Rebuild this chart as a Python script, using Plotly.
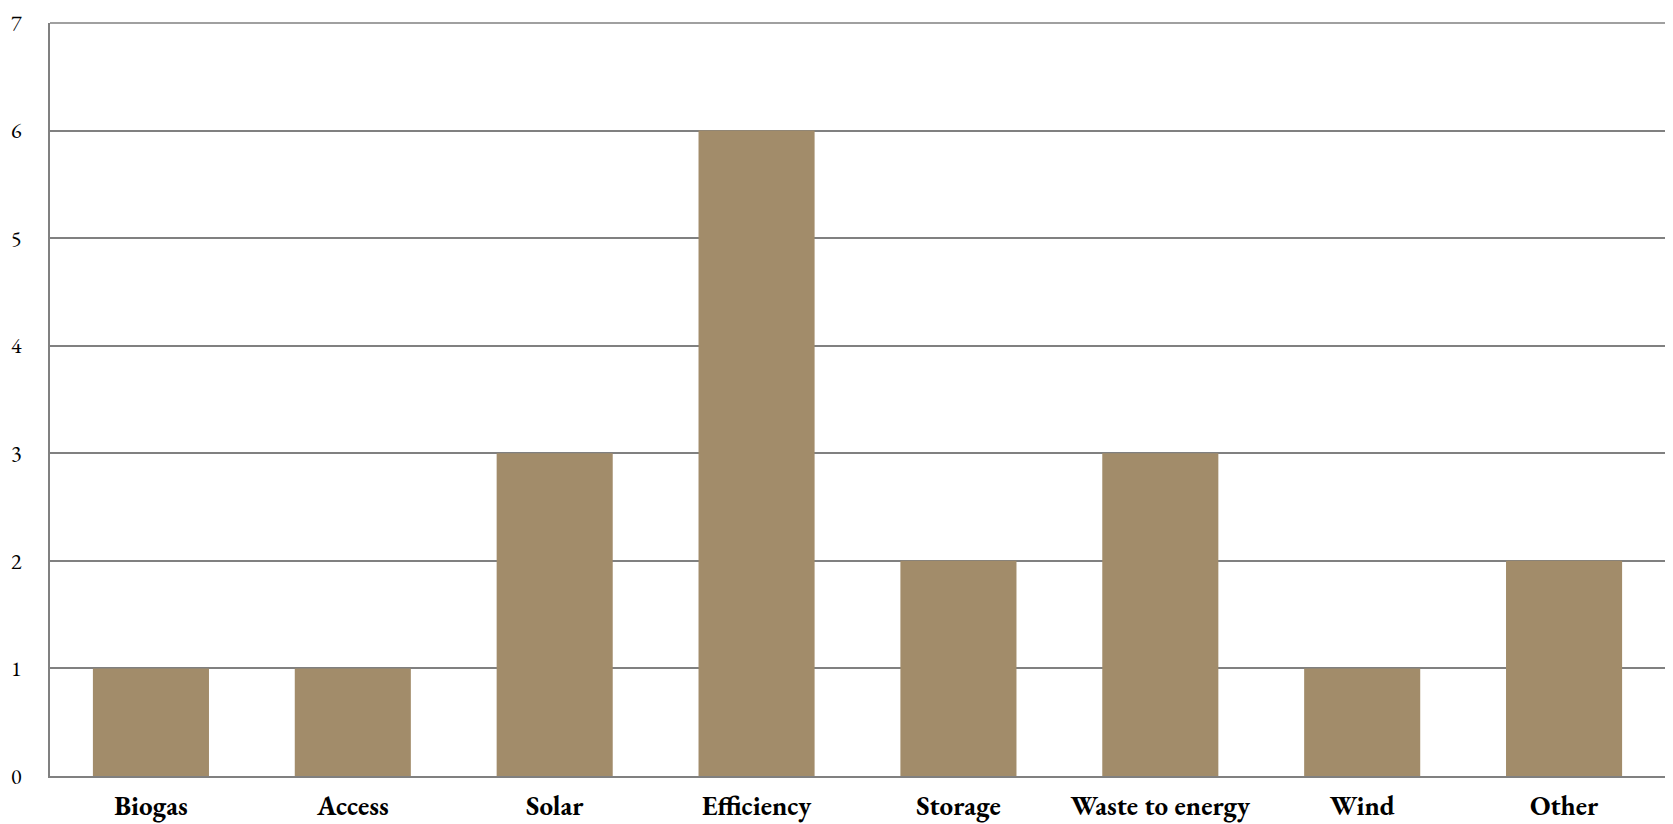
import plotly.graph_objects as go

categories = ["Biogas", "Access", "Solar", "Efficiency", "Storage", "Waste to energy", "Wind", "Other"]
values = [1, 1, 3, 6, 2, 3, 1, 2]
tick_vals = [0, 1, 2, 3, 4, 5, 6, 7]

fig = go.Figure(go.Bar(
    x=categories, y=values,
    marker=dict(color="#A28C6A", line=dict(width=0)),
    width=0.575,
))

font_family = "EB Garamond, Garamond, Liberation Serif, serif"
fig.update_layout(
    width=1673, height=824,
    margin=dict(l=42, r=16, t=15, b=56),
    paper_bgcolor="white", plot_bgcolor="white",
    showlegend=False,
    font=dict(family=font_family, color="black"),
    bargap=0.425,
    shapes=[dict(type="line", xref="paper", yref="paper", x0=0, x1=1, y0=1, y1=1,
                 line=dict(color="#808080", width=1.5), layer="below")],
)
fig.update_xaxes(
    showgrid=False, showline=True, linecolor="#808080", linewidth=2,
    tickfont=dict(size=27, family=font_family), automargin=False,
    tickprefix="<b>", ticksuffix="</b>", ticks="", ticklabelstandoff=5,
)
fig.update_yaxes(
    range=[0, 7], tickvals=tick_vals, showgrid=True, gridcolor="#808080", gridwidth=1.5,
    showline=True, linecolor="#808080", linewidth=2, zeroline=False, automargin=False,
    tickfont=dict(size=22, family=font_family), ticks="", ticklabelstandoff=22,
    ticklabeloverflow="allow",
)
fig.write_html("out.html")
